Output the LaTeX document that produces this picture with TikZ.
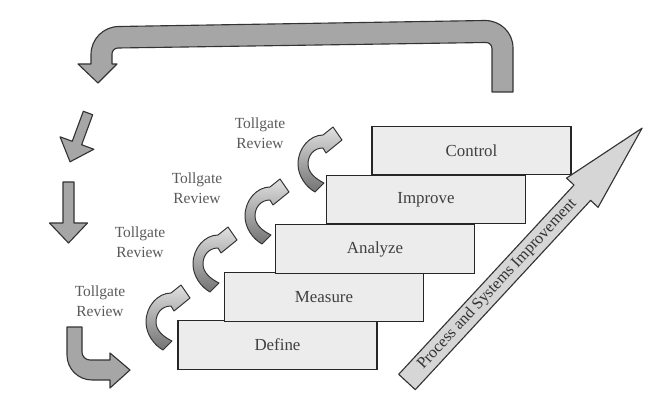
\documentclass[tikz,border=0pt]{standalone}
\usepackage{fontspec}
\setmainfont{Liberation Serif}

\definecolor{stepfill}{HTML}{ECECEC}
\definecolor{arrowgray}{HTML}{A6A6A6}
\definecolor{liftgray}{HTML}{D6D6D6}
\definecolor{textgray}{HTML}{5A5A5A}

\tikzset{
	stepbox/.style={draw=black!85, fill=stepfill, line width=0.9pt, minimum width=4.97cm, minimum height=1.21cm, font=\fontsize{12}{14}\selectfont, text=black!75},
	gatelabel/.style={align=center, font=\fontsize{11}{14}\selectfont, text=textgray},
	blockfill/.style={draw=black!80, fill=arrowgray, line width=0.8pt, line join=round},
	gatefill/.style={draw=black!80, line width=0.7pt, line join=round, top color=black!12, bottom color=black!55},
	pics/blockarrow/.style n args={5}{code={
		\draw[blockfill,#5] (0,-#2) -- ({#1-#4},-#2) -- ({#1-#4},-#3) -- (#1,0) -- ({#1-#4},#3) -- ({#1-#4},#2) -- (0,#2) -- cycle;
	}},
	pics/gatearrow/.style={code={
		\draw[gatefill] (-5,30) .. controls (-14,25) and (-22,14) .. (-22,2)
			.. controls (-22,-14) and (-10,-27) .. (3,-27)
			-- (13,-35) -- (22,-22) -- (6,-9) -- (3,-14)
			.. controls (-6,-14) and (-12,-7) .. (-12,2)
			.. controls (-12,11) and (-4,17) .. (4,21) -- cycle;
	}}
}

\begin{document}
\begin{tikzpicture}[x=0.025cm, y=-0.025cm]
	\path[use as bounding box] (0,0) rectangle (663,399);

	% loop back from Control to the start
	\draw[blockfill] (513,92) -- (513,48) .. controls (513,32.5) and (500.5,20.5) .. (485,20.5)
		-- (119,26.5) .. controls (103.5,26.5) and (91,39) .. (91,54.5) -- (91,64)
		-- (78,64) -- (98,83) -- (117,64) -- (112,64) -- (112,54)
		.. controls (112,50.7) and (114.7,48) .. (118,48) -- (486,42.5)
		.. controls (489.3,42.5) and (492,45.2) .. (492,48.5) -- (492,92) -- cycle;

	% left column arrows
	\pic[rotate=-110.2] at (88,113) {blockarrow={52}{5}{18}{20}{}};
	\pic[rotate=-90] at (68.5,182) {blockarrow={61}{5.5}{19}{20}{}};
	\draw[blockfill] (67,327) -- (67,355) .. controls (67,368.8) and (78.2,380) .. (92,380) -- (110,380)
		-- (110,388) -- (130,370) -- (110,353) -- (110,360) -- (90,360)
		.. controls (85.6,360) and (82,356.4) .. (82,352) -- (82,327) -- cycle;

	% steps
	\node[stepbox] (define) at (277.5,345) {Define};
	\node[stepbox] (measure) at (324,297) {Measure};
	\node[stepbox] (analyze) at (375,249) {Analyze};
	\node[stepbox] (improve) at (426,199.5) {Improve};
	\node[stepbox] (control) at (471.5,150.5) {Control};

	% tollgates
	\pic at (168,320) {gatearrow};
	\pic at (215,262) {gatearrow};
	\pic at (267,214) {gatearrow};
	\pic at (320,162) {gatearrow};
	\node[gatelabel] (gate1) at (100,301) {Tollgate\\Review};
	\node[gatelabel] (gate2) at (140,242) {Tollgate\\Review};
	\node[gatelabel] (gate3) at (197,188) {Tollgate\\Review};
	\node[gatelabel] (gate4) at (260,133) {Tollgate\\Review};

	% improvement arrow
	\pic[rotate=47.2] at (407,382) {blockarrow={346}{11.3}{21.5}{88}{fill=liftgray}};
	\node[rotate=47.2, font=\fontsize{11.5}{13}\selectfont, text=black!80, inner sep=0pt] (psi) at (497.3,284.4) {Process and Systems Improvement};
\end{tikzpicture}
\end{document}
